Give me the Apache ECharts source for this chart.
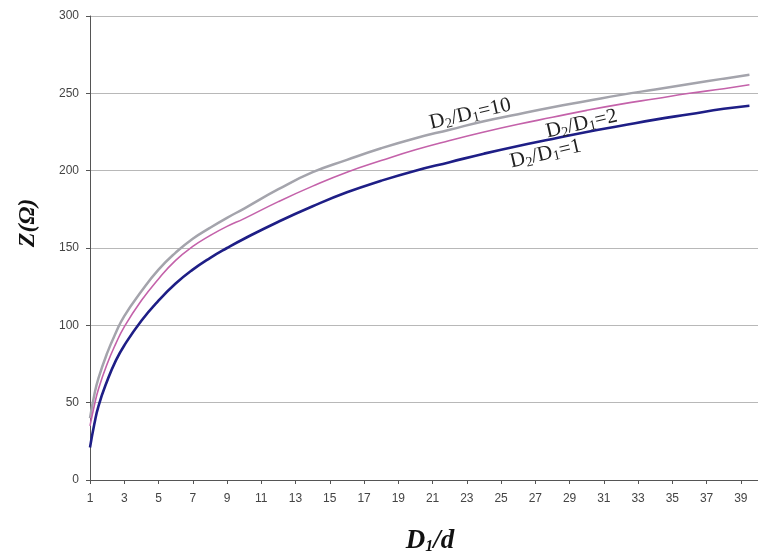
<!DOCTYPE html>
<html>
<head>
<meta charset="utf-8">
<title>Z vs D1/d</title>
<script src="https://cdn.jsdelivr.net/npm/echarts@6/dist/echarts.min.js"></script>
<style>
  html, body { margin: 0; padding: 0; background: #fff; }
  #main { width: 758px; height: 557px; }
</style>
</head>
<body>
<div id="main"></div>
<script>
var ratio = [1, 1.25, 1.5, 2, 2.5, 3, 4, 5, 6, 7, 8, 9, 10, 12, 14, 16, 18, 20, 22, 24, 26, 28, 30, 32, 34, 36, 38, 39.5];

// Z (ohm) for D2/D1 = 10, 2, 1
var z10 = [40, 55, 66, 82, 95, 106, 122, 136, 147, 156, 163, 169.5, 175.5, 188, 199, 207, 214.5, 221, 226.5, 232, 236.5, 241, 245, 249, 252.5, 256, 259.5, 262];
var z2  = [35, 48, 59, 75, 88, 99, 116, 130, 142, 151, 158, 164, 169, 180, 190, 199, 206.5, 213.5, 219.5, 225, 230, 234.5, 239, 243, 246.5, 250, 253, 255.5];
var z1  = [21, 36, 48, 64, 77, 87, 103, 116, 127, 136, 143.5, 150, 156, 167, 177, 186, 193.5, 200, 205.5, 211, 216, 220.5, 225, 229, 233, 236.5, 240, 242];

// where the curve names sit, in data units
var name10 = [23.2, 236.6];
var name2 = [29.7, 230.2];
var name1 = [27.6, 210.8];

function pairs(ys) {
    var out = [];
    for (var i = 0; i < ratio.length; i++) {
        out.push([ratio[i], ys[i]]);
    }
    return out;
}

var subRich = {
    b: { fontFamily: 'Liberation Serif', fontSize: 21, color: '#222', lineHeight: 23 },
    s: { fontFamily: 'Liberation Serif', fontSize: 14, color: '#222', lineHeight: 14, verticalAlign: 'bottom' }
};

function curveName(coord, txt) {
    return {
        symbol: 'circle',
        symbolSize: 1,
        itemStyle: { color: 'rgba(0,0,0,0)' },
        label: { show: true, position: 'inside', rotate: 13, formatter: txt, rich: subRich },
        data: [{ coord: coord }]
    };
}

var myChart = echarts.init(document.getElementById('main'));
var option = {
    backgroundColor: '#fff',
    animation: false,
    grid: { left: 90, right: -9, top: 16, bottom: 77 },
    xAxis: {
        type: 'value',
        min: 1,
        max: 40,
        interval: 2,
        axisLine: { lineStyle: { color: '#555', width: 1 } },
        axisTick: { show: true, length: 4, lineStyle: { color: '#555' } },
        axisLabel: {
            margin: 13, color: '#444', fontFamily: 'Liberation Sans', fontSize: 12,
            showMaxLabel: false,
            formatter: function (v) { return (v % 2 === 1) ? String(v) : ''; }
        },
        splitLine: { show: false }
    },
    yAxis: {
        type: 'value',
        min: 0,
        max: 300,
        interval: 50,
        axisLine: { show: true, lineStyle: { color: '#555', width: 1 } },
        axisTick: { show: true, length: 4, lineStyle: { color: '#555' } },
        axisLabel: { margin: 11, color: '#444', fontFamily: 'Liberation Sans', fontSize: 12 },
        splitLine: { show: true, lineStyle: { color: '#b8b8b8', width: 1 } }
    },
    graphic: [
        {
            type: 'text',
            x: 28, y: 223,
            rotation: Math.PI / 2,
            style: {
                text: 'Z(Ω)', fill: '#111',
                font: 'italic bold 24px "Liberation Serif"',
                align: 'center', verticalAlign: 'middle'
            }
        },
        {
            type: 'text',
            x: 430, y: 541,
            style: {
                text: '{b|D}{s|1}{b|/d}',
                align: 'center', verticalAlign: 'middle',
                rich: {
                    b: { fontFamily: 'Liberation Serif', fontStyle: 'italic', fontWeight: 'bold', fontSize: 27, fill: '#111', lineHeight: 28 },
                    s: { fontFamily: 'Liberation Serif', fontStyle: 'italic', fontWeight: 'bold', fontSize: 16, fill: '#111', lineHeight: 16, verticalAlign: 'bottom' }
                }
            }
        }
    ],
    series: [
        {
            name: 'D2/D1=10',
            type: 'line',
            data: pairs(z10),
            showSymbol: false,
            smooth: 0.5,
            lineStyle: { color: '#a4a4ac', width: 2.5 },
            markPoint: curveName(name10, '{b|D}{s|2}{b|/D}{s|1}{b|=10}')
        },
        {
            name: 'D2/D1=2',
            type: 'line',
            data: pairs(z2),
            showSymbol: false,
            smooth: 0.5,
            lineStyle: { color: '#c462aa', width: 1.6 },
            markPoint: curveName(name2, '{b|D}{s|2}{b|/D}{s|1}{b|=2}')
        },
        {
            name: 'D2/D1=1',
            type: 'line',
            data: pairs(z1),
            showSymbol: false,
            smooth: 0.5,
            lineStyle: { color: '#1e1e86', width: 2.6 },
            markPoint: curveName(name1, '{b|D}{s|2}{b|/D}{s|1}{b|=1}')
        }
    ]
};
myChart.setOption(option);
</script>
</body>
</html>
